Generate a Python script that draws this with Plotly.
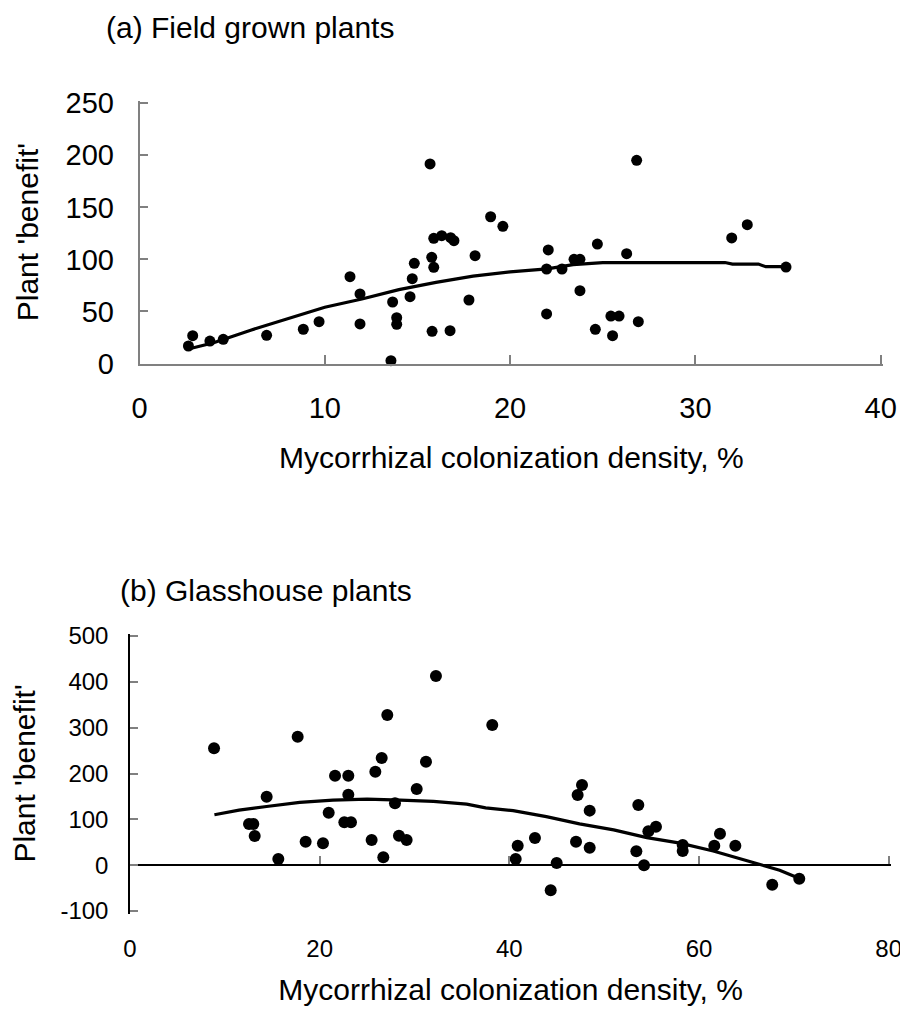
import plotly.graph_objects as go

W, H = 908, 1017
OFF = 8  # page body margin
FW, FH = W - OFF, H - OFF

# ---------------- data ----------------
field_x = [2.64, 2.87, 3.80, 4.52, 6.86, 8.84, 9.69, 11.36, 11.90, 11.90,
           13.57, 13.66, 13.88, 13.88, 14.60, 14.72, 14.83, 15.68, 15.77, 15.88,
           15.79, 15.88, 16.31, 16.76, 16.79, 16.97, 17.78, 18.11, 18.95, 19.61,
           22.06, 21.97, 22.80, 21.97, 23.45, 23.77, 23.77, 24.71, 24.60, 25.44,
           25.88, 25.53, 26.29, 26.83, 26.92, 31.96, 32.80, 34.89]
field_y = [16.8, 26.7, 21.6, 23.2, 27.1, 32.9, 40.2, 83.4, 66.8, 38.0,
           2.7, 59.1, 44.0, 37.6, 64.2, 81.5, 96.3, 191.7, 102.0, 92.4,
           30.9, 120.3, 122.8, 31.5, 120.9, 118.0, 61.0, 103.6, 141.0, 131.8,
           109.1, 90.8, 90.8, 47.6, 100.1, 100.1, 70.0, 114.8, 32.8, 45.6,
           45.6, 26.7, 105.5, 195.2, 40.2, 120.6, 133.4, 92.7]

field_fit_x = [2.64, 4, 6, 8, 10, 12, 14, 16, 18, 20, 22, 23.4, 25, 31.6, 32, 33.4, 33.8, 34.89]
field_fit_y = [14, 20, 32, 43, 54, 62, 71, 78, 84, 88, 91, 95, 97, 97, 95.5, 95.5, 93, 93]

glass_x = [8.86, 17.68, 14.41, 12.55, 13.0, 13.15, 15.64, 18.52, 20.35, 20.95,
           21.62, 23.02, 23.02, 22.6, 23.30, 25.48, 25.87, 26.54, 27.13, 26.71,
           27.94, 28.36, 29.17, 30.23, 31.21, 32.26, 38.2, 40.67, 40.88, 42.70,
           44.36, 44.99, 47.03, 47.2, 47.66, 48.47, 48.47, 53.6, 53.39, 54.2,
           54.66, 55.46, 58.28, 58.28, 61.61, 62.21, 63.83, 67.72, 70.57]
glass_y = [255, 280, 149.5, 90, 90, 63.7, 13.5, 51.3, 47.8, 114.6,
           195, 195, 153.9, 93.5, 93.5, 55, 204, 234, 327.7, 17.2,
           135, 64.4, 55, 166, 225.8, 412.8, 306, 13.5, 42.6, 59.3,
           -54.8, 4.8, 51.3, 153, 175, 119, 38.2, 131.4, 30.3, 0,
           74, 84, 44, 31, 42.6, 68.7, 42.6, -42.5, -29.4]

glass_fit_x = [8.9, 11.5, 14.4, 17.9, 21.4, 25.0, 28.5, 32.0, 35.5, 37.5,
               40.4, 43.9, 47.4, 51.0, 54.5, 58.0, 61.5, 65.0, 68.5, 70.6]
glass_fit_y = [110, 120, 128, 137, 142, 144, 142, 139, 133, 125,
               119, 106, 90, 77, 60, 48, 31, 10, -11, -29]

xa_ticks = [0, 10, 20, 30, 40]
ya_ticks = [0, 50, 100, 150, 200, 250]
xb_ticks = [0, 20, 40, 60, 80]
yb_ticks = [-100, 0, 100, 200, 300, 400, 500]
yb_ticktext = ["-100", "0", "100", "200", "300", "400", "500"]

title_a = "(a) Field grown plants"
title_b = "(b) Glasshouse plants"
xlabel = "Mycorrhizal colonization density, %"
ylabel = "Plant 'benefit'"

# ---------------- layout geometry (screen pixels -> paper) ----------------
def px_x(p):
    return (p - OFF) / FW

def px_y(p):
    return 1 - (p - OFF) / FH

FONT = "Liberation Sans, Arial, sans-serif"
GRAY = "#808080"
PAD = 2.5  # px padding so end ticks are drawn

# panel a: axis ends in screen pixels
a_x0, a_x1, a_xmax = 139.5, 880.7, 40
a_ybot, a_ytop, a_ymax = 363.5, 103.3, 250
sxa = (a_x1 - a_x0) / a_xmax
sya = (a_ybot - a_ytop) / a_ymax
a_dom_x = [px_x(a_x0), px_x(a_x1 + PAD)]
a_dom_y = [px_y(a_ybot), px_y(a_ytop - PAD)]
a_rx = [0, a_xmax + PAD / sxa]
a_ry = [0, a_ymax + PAD / sya]

# panel b
b_x0, b_x1, b_xmax = 130, 888.7, 80
b_ybot, b_ytop, b_ymin, b_ymax = 911, 636, -100, 500
sxb = (b_x1 - b_x0) / b_xmax
syb = (b_ybot - b_ytop) / (b_ymax - b_ymin)
b_dom_x = [px_x(b_x0), px_x(b_x1 + PAD)]
b_dom_y = [px_y(b_ybot + PAD), px_y(b_ytop - PAD)]
b_rx = [0, b_xmax + PAD / sxb]
b_ry = [b_ymin - PAD / syb, b_ymax + PAD / syb]
zero_pos = b_dom_y[0] + (0 - b_ry[0]) / (b_ry[1] - b_ry[0]) * (b_dom_y[1] - b_dom_y[0])

fig = go.Figure()

# panel a
fig.add_trace(go.Scatter(x=field_fit_x, y=field_fit_y, mode="lines",
                         line=dict(color="black", width=3.2), xaxis="x", yaxis="y",
                         showlegend=False, hoverinfo="skip"))
fig.add_trace(go.Scatter(x=field_x, y=field_y, mode="markers",
                         marker=dict(color="black", size=11), xaxis="x", yaxis="y",
                         cliponaxis=False, showlegend=False))

# panel b
fig.add_trace(go.Scatter(x=glass_fit_x, y=glass_fit_y, mode="lines",
                         line=dict(color="black", width=3.2), xaxis="x2", yaxis="y2",
                         showlegend=False, hoverinfo="skip"))
fig.add_trace(go.Scatter(x=glass_x, y=glass_y, mode="markers",
                         marker=dict(color="black", size=12), xaxis="x3", yaxis="y2",
                         cliponaxis=False, showlegend=False))

fig.update_layout(
    width=FW, height=FH,
    margin=dict(l=0, r=0, t=0, b=0, autoexpand=False),
    paper_bgcolor="white", plot_bgcolor="white",
    font=dict(family=FONT, color="black"),
    xaxis=dict(domain=a_dom_x, anchor="y", range=a_rx, tickvals=xa_ticks,
               automargin=False,
               showgrid=False, zeroline=False, showline=True, linecolor=GRAY, linewidth=1.5,
               ticks="inside", ticklen=9, tickcolor=GRAY, tickwidth=2,
               tickfont=dict(size=29), ticklabelstandoff=18,
               title=dict(text=xlabel, font=dict(size=30), standoff=24)),
    yaxis=dict(domain=a_dom_y, anchor="x", range=a_ry, tickvals=ya_ticks,
               automargin=False,
               showgrid=False, zeroline=False, showline=True, linecolor=GRAY, linewidth=1.5,
               ticks="inside", ticklen=9, tickcolor=GRAY, tickwidth=2,
               tickfont=dict(size=29), ticklabelstandoff=18,
               title=dict(text=ylabel, font=dict(size=30), standoff=18)),
    xaxis2=dict(domain=b_dom_x, anchor="y2", range=b_rx, tickvals=xb_ticks,
                automargin=False,
                showgrid=False, zeroline=False, showline=False, ticks="",
                tickfont=dict(size=24), ticklabelstandoff=18,
                title=dict(text=xlabel, font=dict(size=30), standoff=18)),
    xaxis3=dict(overlaying="x2", anchor="free", position=zero_pos, range=b_rx,
                automargin=False,
                tickvals=xb_ticks, showgrid=False, zeroline=False, showline=True,
                linecolor="black", linewidth=1.5, ticks="inside", ticklen=8,
                tickcolor=GRAY, tickwidth=2, showticklabels=False),
    yaxis2=dict(domain=b_dom_y, anchor="x2", range=b_ry, tickvals=yb_ticks,
                ticktext=yb_ticktext, automargin=False,
                showgrid=False, zeroline=False, showline=True, linecolor="black", linewidth=1.5,
                ticks="inside", ticklen=8, tickcolor=GRAY, tickwidth=2,
                tickfont=dict(size=24), ticklabelstandoff=15,
                title=dict(text=ylabel, font=dict(size=30), standoff=16)),
    annotations=[
        dict(text=title_a, xref="paper", yref="paper", x=px_x(104), y=px_y(28),
             xanchor="left", yanchor="middle", showarrow=False, font=dict(size=30)),
        dict(text=title_b, xref="paper", yref="paper", x=px_x(118), y=px_y(590),
             xanchor="left", yanchor="middle", showarrow=False, font=dict(size=30)),
    ],
)

fig.write_html("out.html")
